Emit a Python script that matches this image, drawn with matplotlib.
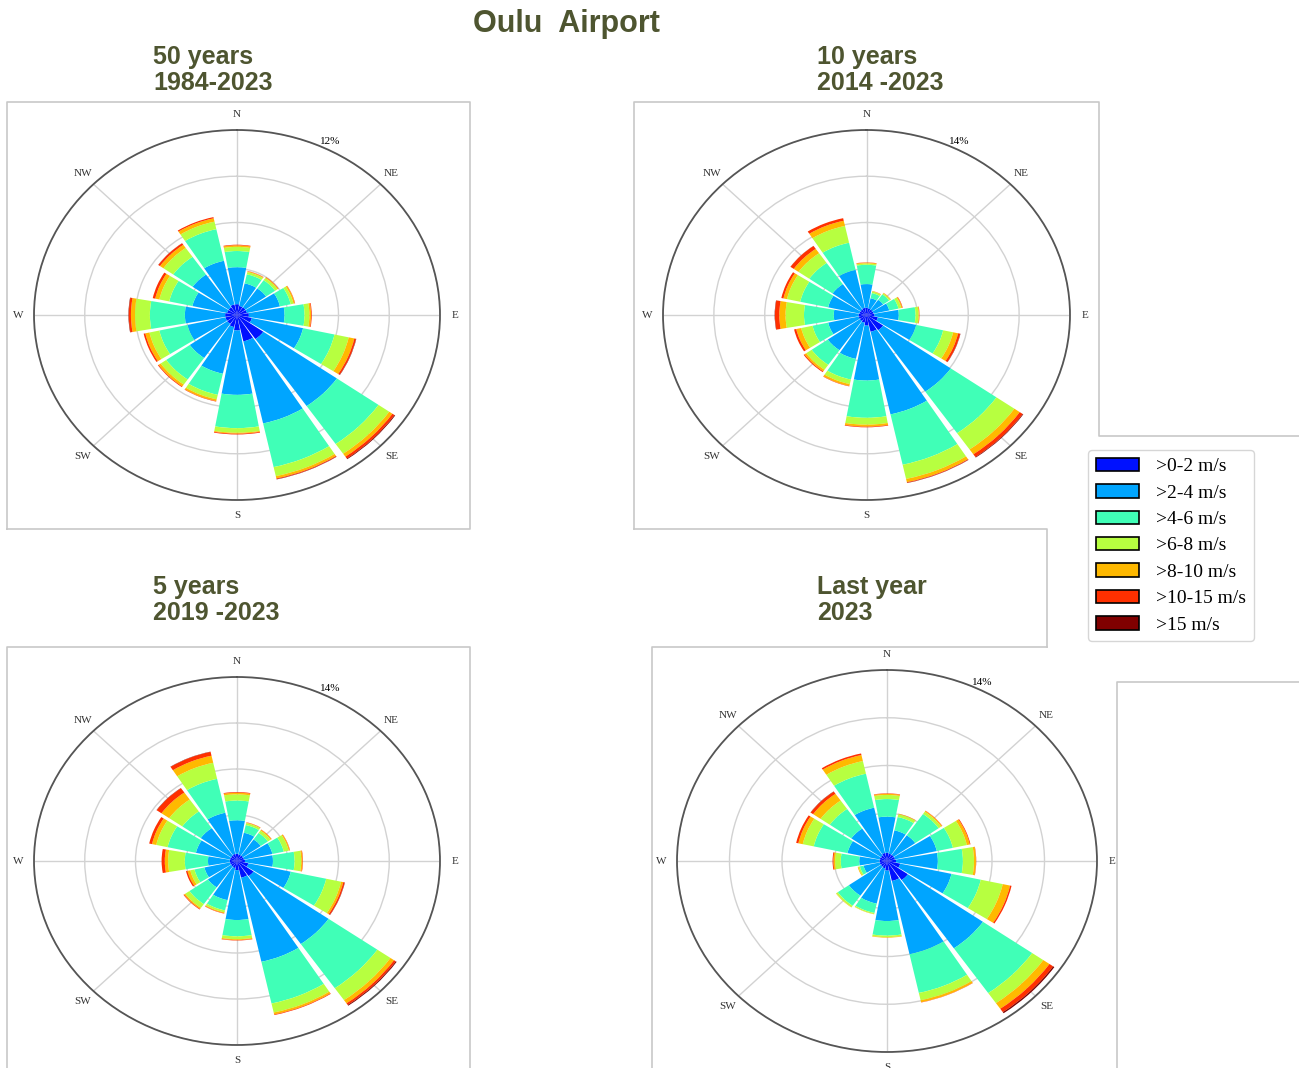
import numpy as np
import matplotlib.pyplot as plt
from matplotlib.patches import Patch
from matplotlib.lines import Line2D

plt.rcParams['font.family'] = ['Liberation Serif', 'DejaVu Serif']

# Direction sectors and speed classes
directions = ['N', 'NNE', 'NE', 'ENE', 'E', 'ESE', 'SE', 'SSE',
              'S', 'SSW', 'SW', 'WSW', 'W', 'WNW', 'NW', 'NNW']
speed_bins = ['>0-2 m/s', '>2-4 m/s', '>4-6 m/s', '>6-8 m/s',
              '>8-10 m/s', '>10-15 m/s', '>15 m/s']
compass = ['N', 'NE', 'E', 'SE', 'S', 'SW', 'W', 'NW']

# Frequency (%) per speed class (rows) and direction (columns, N..NNW)
freq_50y = [
    [0.7, 0.6, 0.6, 0.6, 0.7, 0.9, 1.9, 1.75, 1.0, 0.8, 0.7, 0.7, 0.7, 0.6, 0.6, 0.7],
    [2.4, 1.5, 1.5, 2.0, 2.11, 3.1, 5.3, 5.45, 4.18, 3.1, 2.7, 2.3, 2.38, 2.1, 2.6, 2.9],
    [1.05, 0.6, 0.65, 0.65, 1.18, 1.9, 3.0, 2.9, 2.16, 1.4, 1.7, 1.7, 2.07, 1.4, 1.4, 2.1],
    [0.27, 0.15, 0.17, 0.17, 0.29, 0.86, 0.77, 0.6, 0.3, 0.3, 0.4, 0.6, 0.88, 0.6, 0.7, 0.5],
    [0.1, 0.05, 0.06, 0.08, 0.1, 0.34, 0.23, 0.15, 0.06, 0.12, 0.15, 0.25, 0.24, 0.25, 0.25, 0.22],
    [0.04, 0.02, 0.02, 0.02, 0.04, 0.1, 0.15, 0.05, 0.05, 0.03, 0.05, 0.1, 0.13, 0.15, 0.12, 0.08],
    [0, 0, 0, 0, 0, 0.02, 0.05, 0.02, 0, 0, 0, 0, 0.02, 0, 0.01, 0],
]
freq_10y = [
    [0.55, 0.5, 0.5, 0.5, 0.55, 0.8, 1.4, 1.3, 0.8, 0.6, 0.55, 0.55, 0.55, 0.5, 0.5, 0.55],
    [1.79, 0.8, 0.9, 1.1, 1.67, 2.7, 5.67, 6.4, 4.16, 2.8, 2.7, 2.15, 1.7, 2.2, 2.35, 2.95],
    [1.46, 0.4, 0.5, 0.65, 1.15, 1.9, 3.83, 3.9, 2.82, 1.6, 1.35, 1.1, 2.05, 1.97, 1.95, 2.1],
    [0.1, 0.12, 0.1, 0.2, 0.21, 0.7, 1.5, 1.1, 0.52, 0.35, 0.45, 0.8, 1.27, 0.93, 0.9, 1.3],
    [0.06, 0.03, 0.04, 0.07, 0.05, 0.35, 0.45, 0.25, 0.15, 0.15, 0.15, 0.35, 0.43, 0.25, 0.4, 0.4],
    [0.02, 0.01, 0.01, 0.03, 0.02, 0.15, 0.25, 0.05, 0.05, 0.03, 0.07, 0.15, 0.3, 0.15, 0.27, 0.2],
    [0, 0, 0, 0, 0, 0.02, 0.05, 0.02, 0, 0, 0, 0, 0.02, 0, 0.01, 0],
]
freq_5y = [
    [0.55, 0.5, 0.5, 0.5, 0.55, 0.8, 1.4, 1.3, 0.7, 0.55, 0.5, 0.5, 0.5, 0.5, 0.5, 0.55],
    [2.55, 1.7, 1.5, 2.0, 1.93, 3.0, 6.3, 6.55, 3.79, 2.5, 1.95, 1.8, 1.5, 2.4, 2.55, 3.21],
    [1.5, 0.6, 0.6, 0.8, 1.49, 2.5, 4.1, 3.25, 1.24, 0.8, 1.55, 0.7, 1.6, 2.0, 1.55, 2.64],
    [0.47, 0.15, 0.22, 0.35, 0.46, 1.05, 1.1, 0.7, 0.22, 0.15, 0.35, 0.3, 1.15, 0.8, 1.1, 1.25],
    [0.13, 0.05, 0.08, 0.08, 0.09, 0.15, 0.3, 0.15, 0.07, 0.07, 0.1, 0.2, 0.23, 0.3, 0.65, 0.55],
    [0.05, 0.02, 0.02, 0.02, 0.03, 0.1, 0.15, 0.05, 0.03, 0.03, 0.05, 0.1, 0.22, 0.2, 0.4, 0.3],
    [0, 0, 0, 0, 0, 0.02, 0.07, 0, 0, 0, 0, 0, 0, 0, 0.02, 0.02],
]
freq_2023 = [
    [0.6, 0.55, 0.55, 0.55, 0.6, 0.9, 1.7, 1.5, 0.7, 0.55, 0.5, 0.5, 0.5, 0.5, 0.5, 0.6],
    [2.65, 1.75, 1.75, 2.85, 2.79, 3.5, 6.1, 5.5, 3.7, 2.65, 2.6, 1.1, 1.35, 2.2, 2.4, 3.4],
    [1.29, 1.0, 1.9, 1.1, 1.67, 2.0, 4.0, 2.9, 1.07, 0.7, 0.9, 0.25, 1.23, 2.3, 1.75, 2.55],
    [0.3, 0.2, 0.2, 0.95, 0.74, 1.5, 0.9, 0.55, 0.11, 0.08, 0.12, 0.1, 0.38, 0.75, 0.75, 0.95],
    [0.09, 0.04, 0.08, 0.2, 0.13, 0.5, 0.5, 0.15, 0.04, 0.02, 0.03, 0.05, 0.11, 0.3, 0.6, 0.45],
    [0.03, 0.01, 0.02, 0.05, 0.02, 0.1, 0.3, 0.02, 0, 0, 0, 0, 0.06, 0.15, 0.2, 0.12],
    [0, 0, 0, 0, 0, 0, 0.1, 0, 0, 0, 0, 0, 0, 0, 0.02, 0],
]

panel_titles = ['50 years\n1984-2023', '10 years\n2014 -2023',
                '5 years\n2019 -2023', 'Last year\n2023']
panel_rmax = [12, 14, 14, 14]

colors = plt.cm.jet(np.linspace(0, 1, 8))[1:]
title_color = '#4e5530'
frame_color = '#c8c8c8'

W, H = 1299, 1068
fig = plt.figure(figsize=(W / 100, H / 100), dpi=100)


def px(x, y):
    return x / W, 1 - y / H


def wind_rose(rect, freq, top):
    ax = fig.add_axes(rect, projection='polar')
    theta = np.deg2rad(np.arange(len(directions)) * 22.5)
    width = np.deg2rad(22.5) * 0.9
    bottom = np.zeros(len(directions))
    for i, row in enumerate(freq):
        ax.bar(theta, row, width=width, bottom=bottom, color=colors[i],
               linewidth=0, zorder=3)
        bottom += np.array(row)
    ax.set_theta_zero_location('N')
    ax.set_theta_direction(-1)
    ax.set_ylim(0, top)
    ax.set_yticks(np.linspace(0, top, 5)[1:])
    ax.set_yticklabels(['', '', '', f'{top}%'], fontsize=8)
    ax.set_rlabel_position(24)
    ax.set_xticks(np.deg2rad(np.arange(0, 360, 45)))
    ax.set_xticklabels(compass, fontsize=8, color='#333333')
    ax.tick_params(axis='x', pad=0.5)
    ax.set_axisbelow(True)
    ax.grid(color='#d2d2d2', lw=1.0)
    ax.spines['polar'].set_color('#555555')
    ax.spines['polar'].set_linewidth(1.3)
    ax.set_aspect('auto')
    return ax


# axes boxes (left, top, right, bottom) in pixels
boxes = [(34, 130, 440, 500), (663, 130, 1070, 500),
         (34, 677, 440, 1045), (677, 670, 1097, 1052)]
data = [freq_50y, freq_10y, freq_5y, freq_2023]
for (l, t, r, b), freq, top in zip(boxes, data, panel_rmax):
    x0, y0 = px(l, b)
    wind_rose([x0, y0, (r - l) / W, (b - t) / H], freq, top)

# frames of the pasted images
frames = [
    [(7, 529), (7, 102), (470, 102), (470, 529), (7, 529)],
    [(634, 529), (634, 102), (1099, 102), (1099, 436), (1299, 436)],
    [(634, 529), (1047, 529), (1047, 647)],
    [(7, 1068), (7, 647), (470, 647), (470, 1068)],
    [(652, 1068), (652, 647), (1047, 647)],
    [(1117, 1068), (1117, 682), (1299, 682)],
]
for pts in frames:
    xs, ys = zip(*[px(x, y) for x, y in pts])
    fig.add_artist(Line2D(xs, ys, color=frame_color, lw=1.2))

# titles
fig.text(*px(566, 24), 'Oulu  Airport', ha='center', va='center',
         fontsize=22, fontweight='bold', color=title_color,
         family='Liberation Sans')
title_pos = [(153, 45), (817, 45), (153, 575), (817, 575)]
for (x, y), txt in zip(title_pos, panel_titles):
    fig.text(*px(x, y), txt, ha='left', va='top', fontsize=18,
             fontweight='bold', color=title_color, linespacing=1.08,
             family='Liberation Sans')

handles = [Patch(facecolor=c, edgecolor='black', lw=1.2, label=lab)
           for c, lab in zip(colors, speed_bins)]
fig.legend(handles=handles, loc='upper left', bbox_to_anchor=px(1088, 450),
           fontsize=14, frameon=True, edgecolor='#cccccc', fancybox=True,
           handlelength=2.2, handleheight=0.7, labelspacing=0.45,
           handletextpad=0.9, borderpad=0.4, borderaxespad=0)

fig.savefig('out.png', dpi=100)
